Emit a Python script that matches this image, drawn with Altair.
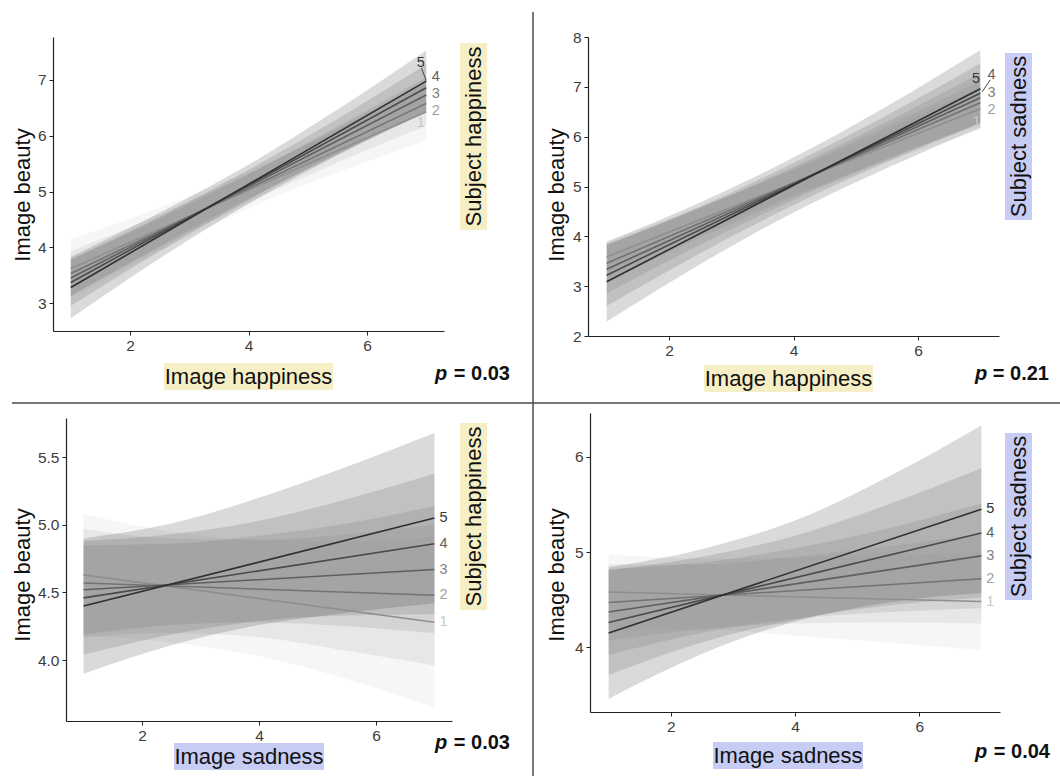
import altair as alt
import pandas as pd

FONT = "Liberation Sans"
W, H = 1060, 776

LEVELS = [1, 2, 3, 4, 5]
RIB_X = [1, 2.5, 4, 5.5, 7]
LINE_X = [1, 7]

FILL_COLS = ["#cccccc", "#a6a6a6", "#808080", "#595959", "#333333"]
LINE_COLS = ["#8f8f8f", "#737373", "#5f5f5f", "#4a4a4a", "#2f2f2f"]
LAB_COLS = ["#c8c8c8", "#9e9e9e", "#808080", "#5e5e5e", "#333333"]

# ---------------- Panel 1: Image happiness x Subject happiness ----------------
p1_start = [3.62, 3.53, 3.45, 3.37, 3.28]
p1_end = [6.43, 6.58, 6.73, 6.86, 6.98]
p1_lo = [[3.10, 3.93, 4.70, 5.34, 5.91],
         [3.13, 3.99, 4.80, 5.52, 6.18],
         [3.13, 4.02, 4.87, 5.66, 6.41],
         [2.95, 3.93, 4.85, 5.68, 6.44],
         [2.73, 3.80, 4.78, 5.65, 6.43]]
p1_hi = [[4.14, 4.71, 5.36, 6.12, 6.95],
         [3.93, 4.59, 5.32, 6.12, 6.98],
         [3.77, 4.52, 5.31, 6.16, 7.05],
         [3.79, 4.55, 5.39, 6.30, 7.28],
         [3.83, 4.62, 5.48, 6.47, 7.53]]
p1_lab_x = [6.91, 7.16, 7.16, 7.16, 6.91]
p1_lab_y = [6.23, 6.44, 6.75, 7.05, 7.30]
p1_lead_x = [6.92, 7.0]
p1_lead_y = [7.21, 6.99]

# ---------------- Panel 2: Image happiness x Subject sadness ----------------
p2_start = [3.59, 3.46, 3.34, 3.22, 3.09]
p2_end = [6.56, 6.68, 6.78, 6.87, 6.96]
p2_lo = [[3.28, 4.07, 4.83, 5.50, 6.14],
         [3.08, 3.97, 4.79, 5.55, 6.25],
         [2.86, 3.83, 4.73, 5.54, 6.28],
         [2.60, 3.66, 4.63, 5.49, 6.27],
         [2.29, 3.44, 4.48, 5.37, 6.18]]
p2_hi = [[3.90, 4.59, 5.33, 6.14, 6.98],
         [3.84, 4.57, 5.35, 6.21, 7.11],
         [3.82, 4.57, 5.39, 6.30, 7.28],
         [3.84, 4.60, 5.47, 6.43, 7.47],
         [3.89, 4.68, 5.58, 6.61, 7.74]]
p2_lab_x = [6.94, 7.18, 7.18, 7.18, 6.93]
p2_lab_y = [6.30, 6.53, 6.87, 7.24, 7.16]
p2_lead_x = [7.03, 7.16]
p2_lead_y = [6.90, 7.14]

# ---------------- Panel 3: Image sadness x Subject happiness ----------------
p3_start = [4.63, 4.57, 4.52, 4.46, 4.40]
p3_end = [4.28, 4.48, 4.67, 4.86, 5.05]
p3_lo = [[4.18, 4.13, 4.03, 3.86, 3.65],
         [4.17, 4.20, 4.17, 4.07, 3.96],
         [4.19, 4.26, 4.28, 4.25, 4.20],
         [4.04, 4.19, 4.29, 4.33, 4.34],
         [3.90, 4.11, 4.26, 4.35, 4.42]]
p3_hi = [[5.08, 4.95, 4.89, 4.88, 4.91],
         [4.97, 4.90, 4.89, 4.93, 5.00],
         [4.85, 4.86, 4.92, 5.01, 5.14],
         [4.88, 4.93, 5.03, 5.19, 5.38],
         [4.90, 5.01, 5.20, 5.43, 5.68]]

# ---------------- Panel 4: Image sadness x Subject sadness ----------------
p4_start = [4.58, 4.47, 4.37, 4.26, 4.15]
p4_end = [4.48, 4.72, 4.96, 5.20, 5.45]
p4_lo = [[4.18, 4.19, 4.12, 4.05, 3.97],
         [4.07, 4.19, 4.25, 4.26, 4.25],
         [3.92, 4.15, 4.30, 4.37, 4.41],
         [3.71, 4.05, 4.29, 4.44, 4.52],
         [3.46, 3.93, 4.27, 4.47, 4.57]]
p4_hi = [[4.98, 4.93, 4.94, 4.97, 4.99],
         [4.87, 4.87, 4.95, 5.06, 5.19],
         [4.82, 4.89, 5.04, 5.25, 5.51],
         [4.81, 4.95, 5.17, 5.50, 5.88],
         [4.84, 5.03, 5.33, 5.79, 6.33]]

PANELS = [
    dict(start=p1_start, end=p1_end, lo=p1_lo, hi=p1_hi,
         lab_x=p1_lab_x, lab_y=p1_lab_y, lead_x=p1_lead_x, lead_y=p1_lead_y,
         px=[53, 444], py=[331, 37], ydom=[2.5, 7.77], yticks=[3, 4, 5, 6, 7], yfmt="d"),
    dict(start=p2_start, end=p2_end, lo=p2_lo, hi=p2_hi,
         lab_x=p2_lab_x, lab_y=p2_lab_y, lead_x=p2_lead_x, lead_y=p2_lead_y,
         px=[588, 999], py=[336, 37], ydom=[2, 8], yticks=[2, 3, 4, 5, 6, 7, 8], yfmt="d"),
    dict(start=p3_start, end=p3_end, lo=p3_lo, hi=p3_hi,
         lab_x=None, lab_y=None, lead_x=None, lead_y=None,
         px=[66, 452], py=[721, 418], ydom=[3.55, 5.79], yticks=[4.0, 4.5, 5.0, 5.5], yfmt=".1f"),
    dict(start=p4_start, end=p4_end, lo=p4_lo, hi=p4_hi,
         lab_x=None, lab_y=None, lead_x=None, lead_y=None,
         px=[590, 1000], py=[712, 413], ydom=[3.32, 6.46], yticks=[4, 5, 6], yfmt="d"),
]


def build_panel(P):
    xs = alt.Scale(domain=[0.7, 7.3], range=P["px"], nice=False, zero=False)
    ys = alt.Scale(domain=P["ydom"], range=P["py"], nice=False, zero=False)
    axis_common = dict(title=None, grid=False, domainColor="#222222", domainWidth=1.2,
                       tickColor="#222222", tickWidth=1, tickSize=4,
                       labelFont=FONT, labelFontSize=15.5, labelColor="#3d3d3d",
                       labelPadding=3)
    xaxis = alt.Axis(values=[2, 4, 6], orient="bottom", offset=P["py"][0] - H, **axis_common)
    yaxis = alt.Axis(values=P["yticks"], orient="left", offset=-P["px"][0],
                     format=P["yfmt"], **axis_common)

    def X(field):
        return alt.X(field, type="quantitative", scale=xs, axis=xaxis)

    def Y(field):
        return alt.Y(field, type="quantitative", scale=ys, axis=yaxis)

    rib_rows, line_rows, lab_rows = [], [], []
    for li, lev in enumerate(LEVELS):
        for xi, xv in enumerate(RIB_X):
            rib_rows.append(dict(x=xv, lo=P["lo"][li][xi], hi=P["hi"][li][xi],
                                 level=lev, fill=FILL_COLS[li]))
        line_rows.append(dict(x=LINE_X[0], y=P["start"][li], level=lev, col=LINE_COLS[li]))
        line_rows.append(dict(x=LINE_X[1], y=P["end"][li], level=lev, col=LINE_COLS[li]))
        if P["lab_x"] is not None:
            lab_rows.append(dict(x=P["lab_x"][li], y=P["lab_y"][li], t=str(lev), col=LAB_COLS[li]))
        else:
            lab_rows.append(dict(x=LINE_X[1], y=P["end"][li], t=str(lev), col=LAB_COLS[li]))

    rib = alt.Chart(pd.DataFrame(rib_rows)).mark_area(
        opacity=0.18, interpolate="monotone").encode(
        x=X("x"), y=Y("lo"), y2="hi:Q",
        fill=alt.Fill("fill:N", scale=None), detail="level:N")

    lines = alt.Chart(pd.DataFrame(line_rows)).mark_line(strokeWidth=1.6).encode(
        x=X("x"), y=Y("y"),
        color=alt.Color("col:N", scale=None), detail="level:N")

    layers = [rib, lines]
    if P["lab_x"] is not None:
        labs = alt.Chart(pd.DataFrame(lab_rows)).mark_text(
            font=FONT, fontSize=14.5, align="center", baseline="middle").encode(
            x=X("x"), y=Y("y"), text="t:N", color=alt.Color("col:N", scale=None))
        lead = alt.Chart(pd.DataFrame(dict(x=P["lead_x"], y=P["lead_y"]))).mark_line(
            color="#444444", strokeWidth=1).encode(x=X("x"), y=Y("y"))
        layers += [lead, labs]
    else:
        labs = alt.Chart(pd.DataFrame(lab_rows)).mark_text(
            font=FONT, fontSize=14.5, align="left", baseline="middle", dx=5).encode(
            x=X("x"), y=Y("y"), text="t:N", color=alt.Color("col:N", scale=None))
        layers += [labs]
    return alt.layer(*layers)


one = pd.DataFrame({"d": [0]})


def txt(s, x, y, size=22, angle=0, weight="normal", style="normal",
        align="center", baseline="middle", color="#111111"):
    return alt.Chart(one).mark_text(
        text=s, font=FONT, fontSize=size, angle=angle, fontWeight=weight,
        fontStyle=style, align=align, baseline=baseline, color=color).encode(
        x=alt.value(x), y=alt.value(y))


def box(x0, x1, y0, y1, c):
    return alt.Chart(one).mark_rect(color=c).encode(
        x=alt.value(x0), x2=alt.value(x1), y=alt.value(y0), y2=alt.value(y1))


def rule(x0, x1, y0, y1):
    return alt.Chart(one).mark_rule(color="#4a4a4a", strokeWidth=1.5).encode(
        x=alt.value(x0), x2=alt.value(x1), y=alt.value(y0), y2=alt.value(y1))


YEL = "#f6efc6"
BLU = "#c6ccf4"

deco = [
    rule(533, 533, 12, 776),
    rule(12, 1060, 403, 403),
    # x titles
    box(164, 333, 363, 390, YEL), txt("Image happiness", 248.5, 377),
    box(704, 873, 365, 392, YEL), txt("Image happiness", 788.5, 379),
    box(174, 324, 743, 770, BLU), txt("Image sadness", 249, 757),
    box(713, 863, 742, 769, BLU), txt("Image sadness", 788, 756),
    # moderator titles
    box(460, 487, 43, 230, YEL), txt("Subject happiness", 474, 136.5, angle=270),
    box(1005, 1032, 53, 220, BLU), txt("Subject sadness", 1019, 136.5, angle=270),
    box(460, 487, 423, 610, YEL), txt("Subject happiness", 474, 516.5, angle=270),
    box(1005, 1032, 433, 600, BLU), txt("Subject sadness", 1019, 516.5, angle=270),
    # y titles
    txt("Image beauty", 23, 195, angle=270),
    txt("Image beauty", 557, 195, angle=270),
    txt("Image beauty", 23, 575, angle=270),
    txt("Image beauty", 557, 575, angle=270),
    # p values
    txt("p", 435, 380, size=20, weight="bold", style="italic", align="left", baseline="alphabetic"),
    txt("= 0.03", 510, 380, size=20, weight="bold", align="right", baseline="alphabetic"),
    txt("p", 975, 380, size=20, weight="bold", style="italic", align="left", baseline="alphabetic"),
    txt("= 0.21", 1049, 380, size=20, weight="bold", align="right", baseline="alphabetic"),
    txt("p", 435, 749, size=20, weight="bold", style="italic", align="left", baseline="alphabetic"),
    txt("= 0.03", 510, 749, size=20, weight="bold", align="right", baseline="alphabetic"),
    txt("p", 975, 758, size=20, weight="bold", style="italic", align="left", baseline="alphabetic"),
    txt("= 0.04", 1050, 758, size=20, weight="bold", align="right", baseline="alphabetic"),
]

panels = [build_panel(P) for P in PANELS]

chart = alt.layer(*panels, *deco).resolve_scale(
    x="independent", y="independent"
).properties(
    width=W, height=H, padding=0,
    autosize=alt.AutoSizeParams(type="none"),
    background="white",
).configure_view(stroke=None)

chart.save("out.html", embed_options={"renderer": "svg", "actions": False})
